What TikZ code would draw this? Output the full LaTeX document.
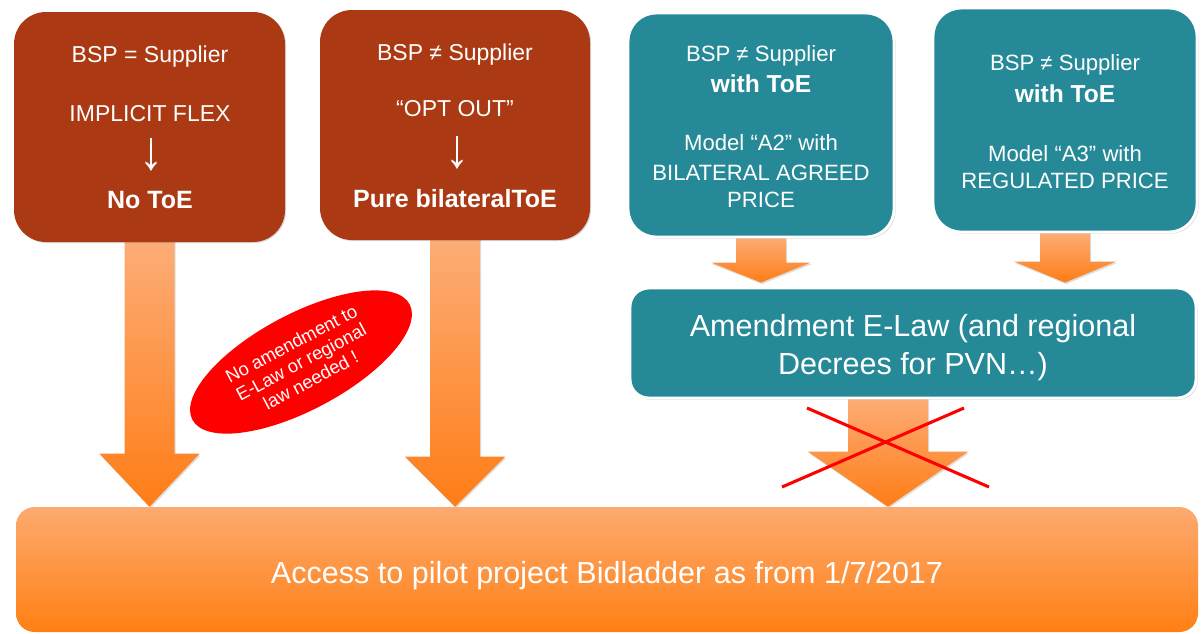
\documentclass[tikz,border=0pt]{standalone}
\usepackage{fontspec}
\usepackage{graphicx}
\setmainfont{Liberation Sans}
\usetikzlibrary{shapes.geometric,shadows,calc}
\pgfdeclarelayer{bg}
\pgfsetlayers{bg,main}
\definecolor{brownbox}{RGB}{171,57,19}
\definecolor{tealbox}{RGB}{37,137,151}
\definecolor{orlight}{RGB}{253,173,120}
\definecolor{ordark}{RGB}{254,125,22}
\definecolor{barlight}{RGB}{253,170,112}
\definecolor{bardark}{RGB}{255,128,20}
\newcommand\blockarrow[5]{%
  \path[arrowsty] ($(#1)+(-#3,0)$) -- ($(#2)+(-#3,-#5)$) -- ($(#2)+(-#4,-#5)$) -- (#2)
    -- ($(#2)+(#4,-#5)$) -- ($(#2)+(#3,-#5)$) -- ($(#1)+(#3,0)$) -- cycle;}
\begin{document}
\begin{tikzpicture}[x=0.75pt,y=-0.75pt,
  brownbox/.style={rectangle, rounded corners=24pt, fill=brownbox, inner sep=0,
    drop shadow={opacity=0.3, shadow xshift=0.8pt, shadow yshift=-0.8pt}},
  tealbox/.style={rectangle, rounded corners=21pt, fill=tealbox, draw=white, line width=2.2pt, inner sep=0,
    drop shadow={opacity=0.3, shadow xshift=1.2pt, shadow yshift=-1.2pt}},
  arrowsty/.style={top color=orlight, bottom color=ordark,
    drop shadow={opacity=0.25, shadow xshift=0.8pt, shadow yshift=-1.2pt}},
  brt/.style={text=white, anchor=base, inner sep=0, font=\fontsize{17.25}{20}\selectfont},
  brb/.style={text=white, anchor=base, inner sep=0, font=\bfseries\fontsize{18.75}{22}\selectfont},
  tlt/.style={text=white, anchor=base, inner sep=0, font=\fontsize{16.6}{20}\selectfont},
  tlb/.style={text=white, anchor=base, inner sep=0, font=\bfseries\fontsize{18.4}{22}\selectfont},
  big/.style={text=white, anchor=base, inner sep=0, font=\fontsize{22.9}{27}\selectfont},
  dnarrow/.style={text=white, inner sep=0, font=\fontsize{36}{38}\selectfont},
  cross/.style={draw=red, line width=2.3pt}
]
\useasboundingbox (0,0) rectangle (1201,633);

% boxes
\node[brownbox, minimum width=271*0.75pt, minimum height=230*0.75pt] (b1) at (149.5,127) {};
\node[brownbox, minimum width=270*0.75pt, minimum height=230*0.75pt] (b2) at (455,125) {};
\node[tealbox, minimum width=266*0.75pt, minimum height=224*0.75pt] (b3) at (761,125) {};
\node[tealbox, minimum width=264*0.75pt, minimum height=224*0.75pt] (b4) at (1065,120) {};
\node[tealbox, rounded corners=14pt, minimum width=566*0.75pt, minimum height=110*0.75pt] (am) at (913,343) {};
\node[rectangle, rounded corners=14pt, top color=barlight, bottom color=bardark, inner sep=0,
  minimum width=1182*0.75pt, minimum height=125*0.75pt] (bar) at (607,569.5) {};

% arrow coordinates
\coordinate (t1) at (bar.north -| b1.south);
\coordinate (t2) at (bar.north -| b2.south);
\coordinate (t3) at ($(am.north -| b3.south)+(0,-4)$);
\coordinate (t4) at ($(am.north -| b4.south)+(0,-4)$);
\coordinate (s5) at (888,396);
\coordinate (t5) at (bar.north -| s5);

% block arrows, behind the boxes
\begin{pgfonlayer}{bg}
\fill[white] (0,0) rectangle (1201,633);
\blockarrow{$(b1.south)+(0,-4)$}{t1}{25}{50}{53}
\blockarrow{$(b2.south)+(0,-4)$}{t2}{25}{50}{50}
\blockarrow{$(b3.south)+(0,-2)$}{t3}{25}{50}{20}
\blockarrow{$(b4.south)+(0,-2)$}{t4}{25}{51}{21}
\blockarrow{s5}{t5}{40}{80}{55}
\end{pgfonlayer}

% texts box 1
\node[brt] (b1l1) at (150,62) {BSP = Supplier};
\node[brt] (b1l2) at (150,121) {IMPLICIT FLEX};
\node[dnarrow] (b1ar) at (151,155) {\scalebox{1}[1.15]{↓}};
\node[brb] (b1l3) at (150,208) {No ToE};
% texts box 2
\node[brt] (b2l1) at (455,60) {BSP ≠ Supplier};
\node[brt] (b2l2) at (455,116) {“OPT OUT”};
\node[dnarrow] (b2ar) at (457,153) {\scalebox{1}[1.15]{↓}};
\node[brb] (b2l3) at (455,207) {Pure bilateralToE};
% texts box 3
\node[tlt] (b3l1) at (761,61) {BSP ≠ Supplier};
\node[tlb] (b3l2) at (761,92) {with ToE};
\node[tlt] (b3l3) at (761,150) {Model “A2” with};
\node[tlt] (b3l4) at (761,180) {BILATERAL AGREED};
\node[tlt] (b3l5) at (761,207) {PRICE};
% texts box 4
\node[tlt] (b4l1) at (1065,70) {BSP ≠ Supplier};
\node[tlb] (b4l2) at (1065,102) {with ToE};
\node[tlt] (b4l3) at (1065,161) {Model “A3” with};
\node[tlt] (b4l4) at (1065,188) {REGULATED PRICE};
% amendment
\node[big] (aml1) at (913,336) {Amendment E-Law (and regional};
\node[big] (aml2) at (913,374) {Decrees for PVN…)};
% bottom bar
\node[big] (barl) at (607,583) {Access to pilot project Bidladder as from 1/7/2017};

% red ellipse
\node[ellipse, fill=red, minimum width=246*0.75pt, minimum height=96*0.75pt, rotate=28,
  text=white, align=center, inner sep=0, font=\fontsize{13.8}{15.5}\selectfont] (note) at (301,362)
  {No amendment to\\E-Law or regional\\law needed !};

% red cross
\coordinate (c1a) at (807,408);
\coordinate (c1b) at (989,487);
\coordinate (c2a) at (964,408);
\coordinate (c2b) at (782,487);
\draw[cross] (c1a) -- (c1b);
\draw[cross] (c2a) -- (c2b);
\end{tikzpicture}
\end{document}
